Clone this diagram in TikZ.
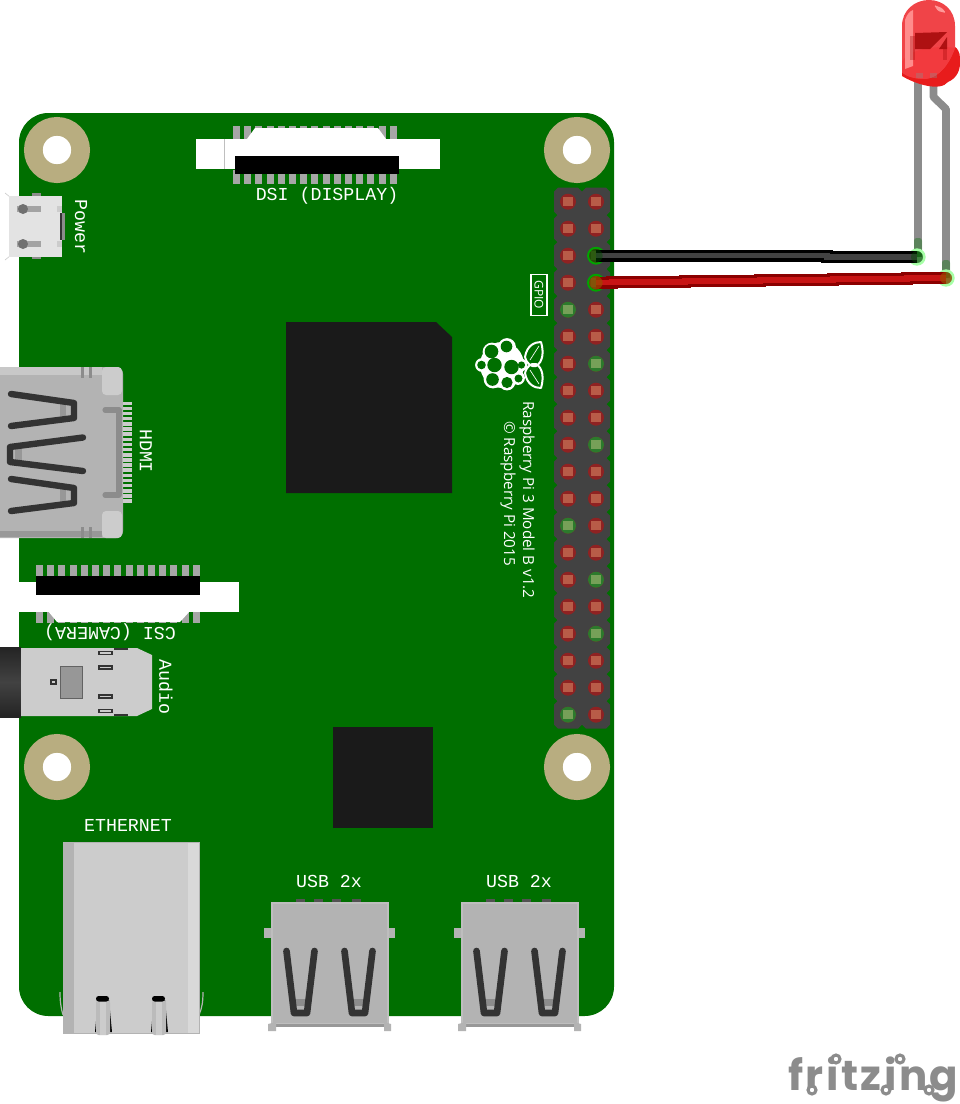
\documentclass[tikz,border=0pt]{standalone}
\usepackage{fontspec}
\newfontfamily\monofont{Liberation Mono}
\newfontfamily\infofont{Open Sans}
\newfontfamily\logofont[LetterSpace=6]{Poppins}
\definecolor{boardGreen}{HTML}{006F00}
\definecolor{holeGold}{HTML}{B8AD80}
\definecolor{chipBlack}{HTML}{1A1A1A}
\definecolor{headerGray}{HTML}{424242}
\definecolor{padRed}{HTML}{8F2222}
\definecolor{coreRed}{HTML}{B85C48}
\definecolor{padGreen}{HTML}{2C7A2C}
\definecolor{coreGreen}{HTML}{76A058}
\definecolor{pinGray}{HTML}{A6A6A6}
\definecolor{metalGray}{HTML}{B3B3B3}
\definecolor{metalLight}{HTML}{CCCCCC}
\definecolor{glyphDark}{HTML}{333333}
\definecolor{legGray}{HTML}{8C8C8C}
\definecolor{wireRed}{HTML}{C81414}
\definecolor{wireRedDark}{HTML}{8B0000}
\definecolor{ledFlange}{HTML}{E81C1C}
\definecolor{ledBody}{HTML}{F04448}
\definecolor{ledLower}{HTML}{F23A3E}
\tikzset{
	boardtext/.style={text=white, inner sep=0pt, font=\monofont\fontsize{13.7}{14}\selectfont},
	infotext/.style={text=white, inner sep=0pt, anchor=west, rotate=-90, font=\infofont\fontsize{11.4}{12}\selectfont},
	mounthole/.style={circle, fill=white, draw=holeGold, line width=14pt, minimum size=35.5pt, inner sep=0pt},
	pinpad/.style={circle, fill=padRed, minimum size=12pt, inner sep=0pt},
	pincore/.style={rectangle, fill=coreRed, minimum size=7pt, inner sep=0pt},
	greenpad/.style={pinpad, fill=padGreen},
	greencore/.style={pincore, fill=coreGreen},
	boardpin/.style={fill=pinGray},
	usbglyph/.style={draw=glyphDark, line width=5pt, line join=round, line cap=round},
	hdmiglyph/.style={draw=glyphDark, line width=4.8pt, line join=round, line cap=round},
	wireblack/.style={draw=black, line width=2.6pt, double=headerGray, double distance=3.8pt, line join=miter},
	wirered/.style={draw=wireRedDark, line width=2.6pt, double=wireRed, double distance=3.8pt, line join=miter},
	boardend/.style={circle, draw=green!65!black, line width=1.4pt, fill=green!45!black, fill opacity=0.55, minimum size=12pt, inner sep=0pt},
	ledend/.style={circle, draw=green!35!white, line width=2pt, fill=green!45!black, fill opacity=0.55, minimum size=11pt, inner sep=0pt},
	logoring/.style={circle, draw=legGray, fill=white, line width=2.3pt, minimum size=6pt, inner sep=0pt}
}
\begin{document}
\begin{tikzpicture}[x=0.75pt, y=-0.75pt]
	\useasboundingbox (0,0) rectangle (960,1104);
	\fill[boardGreen, rounded corners=22pt] (19,113) rectangle (614,1016);

	\node[mounthole](holeTL) at (57,150){};
	\node[mounthole](holeTR) at (577,150){};
	\node[mounthole](holeBL) at (57,767){};
	\node[mounthole](holeBR) at (577,767){};

	\fill[chipBlack] (286,322) -- (436,322) -- (452,337) -- (452,493) -- (286,493) -- cycle;
	\fill[chipBlack] (333,727) rectangle (433,828);

	\fill[headerGray] (560,192) rectangle (604,724);
	\foreach \col in {0,1}
		\foreach \row in {0,...,19}
			\fill[headerGray] ({568+28*\col-14},{201.7+27*\row-10}) -- ({568+28*\col-10},{201.7+27*\row-14}) -- ({568+28*\col+10},{201.7+27*\row-14}) -- ({568+28*\col+14},{201.7+27*\row-10}) -- ({568+28*\col+14},{201.7+27*\row+10}) -- ({568+28*\col+10},{201.7+27*\row+14}) -- ({568+28*\col-10},{201.7+27*\row+14}) -- ({568+28*\col-14},{201.7+27*\row+10}) -- cycle;
	\foreach \row in {0,...,19}{
		\node[pinpad](padL\row) at (568,{201.7+27*\row}){};
		\node[pincore] at (568,{201.7+27*\row}){};
		\node[pinpad](padR\row) at (596,{201.7+27*\row}){};
		\node[pincore] at (596,{201.7+27*\row}){};
	}
	\foreach \row in {4,12,19}{
		\node[greenpad] at (568,{201.7+27*\row}){};
		\node[greencore] at (568,{201.7+27*\row}){};
	}
	\foreach \row in {6,9,14,16}{
		\node[greenpad] at (596,{201.7+27*\row}){};
		\node[greencore] at (596,{201.7+27*\row}){};
	}

	\node[draw=white, line width=0.9pt, text=white, rotate=-90, minimum width=31pt, minimum height=12pt, inner sep=0pt, font=\infofont\fontsize{9}{9}\selectfont](gpioLabel) at (539,295){GPIO};

	\fill[white] (502,365) ellipse (22 and 23);
	\foreach \cx/\cy/\cr in {492/352/7,507/347/6.5,495/365/8,512/367/8,482/365/4.5,521/365/4,493/379/7,507/382/6,518/378/4.5}
		\fill[white] (\cx,\cy) circle ({\cr+2.4});
	\foreach \cx/\cy/\cr in {491.5/351.5/6.8,506.5/346.5/5.8,494.5/365/7.2,511.5/367/7.2,481.5/365/4.3,521.5/365/3.6,492.5/379.5/6.3,507/382.5/5.6,518.5/378.5/4}
		\fill[boardGreen] (\cx,\cy) circle (\cr);
	\draw[white, line width=1.5pt, line join=round] (525,357) .. controls (527,345) and (535,342) .. (541,342) .. controls (544,352) and (543,362) .. (536,366) .. controls (531,367) and (527,364) .. (525,357);
	\draw[white, line width=1.5pt, line join=round] (525,373) .. controls (527,385) and (535,388) .. (541,388) .. controls (544,378) and (543,368) .. (536,364) .. controls (531,363) and (527,366) .. (525,373);
	\draw[white, line width=0.5pt] (530,360) -- (539,346);
	\draw[white, line width=0.5pt] (530,370) -- (539,384);
	\node[infotext](modelLabel) at (527,401){Raspberry Pi 3 Model B v1.2};
	\node[infotext](copyLabel) at (508,421){© Raspberry Pi 2015};

	\foreach \k in {0,...,14}{
		\fill[boardpin] ({233+11.2*\k},126) rectangle ({240+11.2*\k},140);
		\fill[boardpin] ({233+11.2*\k},170) rectangle ({240+11.2*\k},184);
	}
	\fill[white] (196,139) rectangle (440,169);
	\fill[white] (247,139) -- (255,128) -- (378,128) -- (386,139) -- cycle;
	\draw[black!25, line width=0.4pt] (224,139) -- (224,169);
	\fill[black] (235,156) rectangle (399,174);
	\node[boardtext](dsiLabel) at (327,196){DSI (DISPLAY)};

	\draw[metalLight, line width=0.5pt] (5,193) -- (10,197);
	\draw[metalLight, line width=0.5pt] (5,260) -- (10,256);
	\fill[metalLight!55!white] (9,196) -- (62,196) -- (62,257) -- (9,257) -- cycle;
	\fill[legGray] (32,193) rectangle (41,196);
	\fill[legGray] (32,257) rectangle (41,259);
	\fill[metalLight!80!black] (17,206) rectangle (41,212);
	\fill[metalLight!80!black] (17,241) rectangle (41,247);
	\fill[metalLight!55!black] (23,209) circle (5);
	\fill[metalLight!55!black] (23,244) circle (5);
	\fill[metalLight] (57,206) rectangle (62,212);
	\fill[metalLight] (57,241) rectangle (62,247);
	\fill[glyphDark] (60,213) rectangle (62,240);
	\fill[legGray] (62,213) rectangle (65,240);
	\node[boardtext, rotate=-90](powerLabel) at (81,227){Power};

	\fill[metalGray, rounded corners=5pt] (-20,367) rectangle (123,538);
	\fill[metalLight!85!metalGray] (0,367) rectangle (102,375);
	\fill[metalGray!85!black] (0,531) rectangle (102,537);
	\fill[metalLight, rounded corners=3pt] (102,367) -- (122,367) -- (122,395) -- (102,395) -- cycle;
	\fill[metalLight, rounded corners=3pt] (102,511) -- (122,511) -- (122,538) -- (102,538) -- cycle;
	\foreach \tx in {81,89}{
		\fill[legGray] (\tx,367) rectangle ({\tx+3},378);
		\fill[legGray] (\tx,527) rectangle ({\tx+3},538);
	}
	\foreach \k in {0,...,19}
		\fill[metalLight] (123,{401.5+5.15*\k}) rectangle (131.5,{405+5.15*\k});
	\draw[legGray, line width=3.8pt, line cap=round, line join=round] (105,410) -- (119,410) -- (119,495) -- (105,495);
	\fill[legGray!90!white] (60,404) rectangle (66,416);
	\fill[legGray!90!white] (15,448) rectangle (22,462);
	\fill[legGray!90!white] (60,489) rectangle (66,502);
	\draw[hdmiglyph] (11,394) -- (74,403) -- (74,418) -- (11,426);
	\draw[hdmiglyph] (83,437.5) -- (10,447) -- (10,462) -- (83,471);
	\draw[hdmiglyph] (11,479) -- (74,488) -- (74,503) -- (11,511);
	\node[boardtext, rotate=-90](hdmiLabel) at (146,451){HDMI};

	\foreach \k in {0,...,14}{
		\fill[boardpin] ({36+11.2*\k},565) rectangle ({43+11.2*\k},578);
		\fill[boardpin] ({36+11.2*\k},608) rectangle ({43+11.2*\k},623);
	}
	\fill[white] (19,581.5) rectangle (239,611.5);
	\fill[white] (48,611) -- (57,622) -- (180,622) -- (190,611) -- cycle;
	\fill[black] (36,576) rectangle (200,595);
	\node[boardtext, rotate=180](csiLabel) at (110,632){CSI (CAMERA)};

	\shade[top color=glyphDark!70!black, bottom color=glyphDark!70!black, middle color=headerGray] (0,647) rectangle (21,717);
	\fill[metalLight] (21,648) -- (137,648) -- (152,655) -- (152,709) -- (137,716) -- (21,716) -- cycle;
	\fill[legGray!90!white, draw=legGray!70!black, line width=0.5pt] (60,666) rectangle (82,698);
	\fill[metalLight, draw=glyphDark, line width=1.2pt] (51,680) rectangle (56,684);
	\foreach \sy in {653,667.5,696.5,711}
		\fill[metalLight, draw=glyphDark, line width=1pt] (99,{\sy-1.5}) rectangle (112,{\sy+1.5});
	\fill[glyphDark] (114,648) rectangle (128,650);
	\fill[glyphDark] (114,714) rectangle (128,716);
	\node[boardtext, rotate=-90](audioLabel) at (166,687){Audio};

	\node[boardtext](etherLabel) at (128,825){ETHERNET};
	\draw[metalGray, line width=0.9pt] (60,992) .. controls (60,1002) and (61,1008) .. (63,1015);
	\draw[metalGray, line width=0.9pt] (203,992) .. controls (203,1002) and (202,1008) .. (199,1015);
	\fill[metalLight, draw=metalGray, line width=0.4pt] (63,842) rectangle (199,1033);
	\fill[metalGray] (63.5,842.5) rectangle (74,1032.5);
	\fill[metalLight!75!white] (188,842.5) rectangle (198.5,1032.5);
	\foreach \jx in {96,152}{
		\fill[black] ({\jx-1},1032) -- ({\jx+2},1000) -- ({\jx+13},1000) -- ({\jx+16},1032) -- cycle;
		\fill[metalGray!90!white, rounded corners=2pt] (\jx,1000) rectangle ({\jx+14},1035);
		\fill[metalLight] ({\jx+4},1000) rectangle ({\jx+10},1035);
		\fill[black, rounded corners=2pt] (\jx,996) rectangle ({\jx+13},1001.5);
	}

	\foreach \ux/\uname in {0/usbA,190/usbB}{
		\node[boardtext](\uname) at ({329+\ux},881){USB 2x};
		\foreach \nx in {296,314,332,352}
			\fill[glyphDark!85!white] ({\nx+\ux},899) rectangle ({\nx+9+\ux},902);
		\fill[metalGray] ({264+\ux},928) rectangle ({272+\ux},938);
		\fill[metalGray] ({388+\ux},928) rectangle ({395+\ux},938);
		\fill[metalGray, draw=metalGray!85!white, line width=0.9pt] ({272+\ux},903) rectangle ({388+\ux},1024);
		\fill[metalGray!85!black] ({272+\ux},1024) rectangle ({388+\ux},1027);
		\fill[metalGray] ({268+\ux},1024) -- ({276+\ux},1022) -- ({276+\ux},1031) -- ({268+\ux},1031) -- cycle;
		\fill[metalGray] ({384+\ux},1022) -- ({391+\ux},1024) -- ({391+\ux},1031) -- ({384+\ux},1031) -- cycle;
		\foreach \vx in {0,58}{
			\fill[legGray] ({295+\ux+\vx},999) rectangle ({307+\ux+\vx},1006);
			\draw[usbglyph] ({286.5+\ux+\vx},951) -- ({294+\ux+\vx},1013) -- ({307+\ux+\vx},1013) -- ({314.5+\ux+\vx},951);
		}
	}

	\fill[legGray] (914,60) rectangle (922,257);
	\draw[legGray, line width=5.8pt, line join=round] (933.5,60) -- (933.5,97) -- (946,109) -- (946,278);
	\fill[green!45!black, opacity=0.35, rounded corners=2pt] (914,238) rectangle (922,257);
	\fill[green!45!black, opacity=0.35, rounded corners=2pt] (942,260) rectangle (950,278);

	\node[boardend](pinBlack) at (596,255.7){};
	\node[boardend](pinRed) at (596,282.7){};
	\node[ledend](ledCathode) at (917,257){};
	\node[ledend](ledAnode) at (946,278){};

	\coordinate (blackJog) at (827,257);
	\coordinate (redOne) at (612,282);
	\coordinate (redTwo) at (685,281);
	\coordinate (redThree) at (760,280);
	\coordinate (redFour) at (833,279);
	\coordinate (redFive) at (907,278);
	\draw[wireblack] (pinBlack.center) -| (blackJog) -- (ledCathode.center);
	\draw[wirered] (pinRed.center) -| (redOne) -| (redTwo) -| (redThree) -| (redFour) -| (redFive) -- (ledAnode.center);
	\node[circle, fill=green!30!black, fill opacity=0.45, minimum size=10pt, inner sep=0pt](pinBlackTop) at (pinBlack){};
	\node[circle, fill=green!30!black, fill opacity=0.45, minimum size=9pt, inner sep=0pt](ledCathodeTop) at (ledCathode){};
	\node[circle, fill=orange!60!black, fill opacity=0.7, minimum size=10pt, inner sep=0pt](pinRedTop) at (pinRed){};
	\node[circle, fill=orange!60!black, fill opacity=0.7, minimum size=9pt, inner sep=0pt](ledAnodeTop) at (ledAnode){};

	\fill[ledFlange] (902,60) -- (902,76) .. controls (915,84) and (940,92) .. (948,82) .. controls (957,78) and (961,70) .. (960,58) .. controls (960,52) and (957,48) .. (955,47) -- cycle;
	\fill[ledBody] (902,72) -- (902,26) .. controls (902,10) and (915,0) .. (929,0) .. controls (943,0) and (955,10) .. (955,26) -- (955,48) .. controls (950,62) and (940,78) .. (925,79) .. controls (915,79) and (905,76) .. (902,72) -- cycle;
	\fill[ledLower] (902,62) .. controls (910,46) and (945,46) .. (955,48) .. controls (950,62) and (940,78) .. (925,79) .. controls (915,79) and (905,76) .. (902,72) -- cycle;
	\fill[red!45!white] (905,20) .. controls (907,14) and (910,11) .. (913,10) -- (913,66) -- (905,69) -- cycle;
	\fill[red!40!white, rounded corners=1pt] (934,5) -- (942,8) -- (946,13) -- (938,11) -- cycle;
	\fill[red!60!black, opacity=0.75] (915,33) -- (947,32) -- (930,49) -- (915,49) -- cycle;
	\fill[red!60!black, opacity=0.75] (939,49) -- (947,37) -- (947,49) -- cycle;
	\fill[red!60!black, opacity=0.3] (910,36) rectangle (915,60);
	\fill[red!60!black, opacity=0.3] (943,49) rectangle (947,60);
	\fill[legGray, opacity=0.35] (916,73) rectangle (923,78);
	\fill[legGray, opacity=0.35] (930,73) rectangle (937,78);

	\node[inner sep=0pt, anchor=base west, text=legGray, font=\logofont\bfseries\fontsize{31.5}{34}\selectfont](logoText) at (788,1090){fritzing};
	\node[logoring](ringA) at (812,1090){};
	\node[logoring](ringB) at (836,1059){};
	\node[logoring](ringC) at (886,1090){};
	\node[logoring](ringD) at (900,1059){};
	\node[logoring](ringE) at (929,1090){};
\end{tikzpicture}
\end{document}
